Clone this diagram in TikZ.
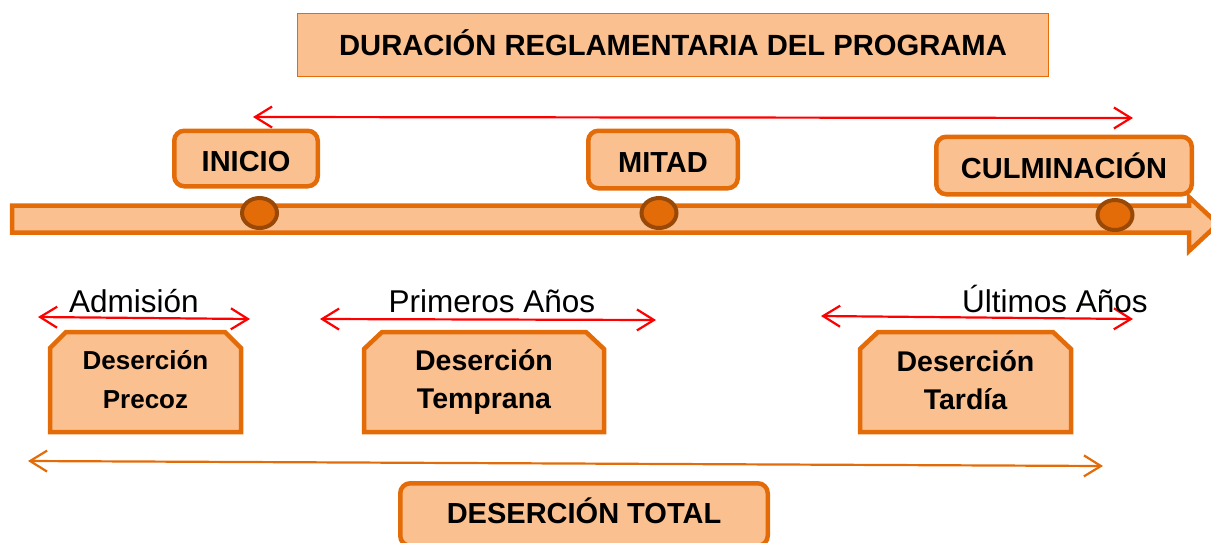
\documentclass[tikz,border=0pt]{standalone}
\usepackage{fontspec}
\setmainfont{Liberation Sans}
\usetikzlibrary{arrows.meta,shapes.geometric}
\definecolor{orL}{HTML}{FAC090}
\definecolor{orD}{HTML}{E36C09}
\definecolor{brn}{HTML}{984807}
\begin{document}
\begin{tikzpicture}[x=1pt,y=-1pt,
  lbl/.style={draw=orD, fill=orL, line width=4.5pt, rounded corners=10pt, inner sep=0pt,
    font=\bfseries\fontsize{29}{34}\selectfont, text height=25pt, text depth=0pt},
  ttl/.style={draw=orD, fill=orL, line width=1.2pt, inner sep=0pt,
    font=\bfseries\fontsize{29.2}{34}\selectfont, text height=21pt, text depth=0pt},
  dot/.style={ellipse, draw=brn, fill=orD, line width=4pt, minimum width=35pt, minimum height=30pt, inner sep=0pt},
  bar/.style={draw=orD, fill=orL, line width=4.5pt, line join=miter},
  snip/.style={draw=orD, fill=orL, line width=4.5pt, line join=miter},
  redarr/.style={draw=red, line width=2.2pt, {Straight Barb[length=17pt,width=21pt]}-{Straight Barb[length=17pt,width=21pt]}},
  orarr/.style={draw=orD, line width=2.2pt, {Straight Barb[length=17pt,width=21pt]}-{Straight Barb[length=17pt,width=21pt]}},
  yr/.style={font=\fontsize{31.5}{36}\selectfont, inner sep=0pt, anchor=base},
  des/.style={font=\bfseries\fontsize{28.5}{34}\selectfont, inner sep=0pt, anchor=base}
]
\useasboundingbox (0,0) rectangle (1211,542);

% title
\node[ttl, minimum width=750.8pt, minimum height=62.8pt] (title) at (673,45) {DURACIÓN REGLAMENTARIA DEL PROGRAMA};

% top red arrow
\coordinate (ta) at (253,117);
\coordinate (tb) at (1133,118);
\draw[redarr] (ta) -- (tb);

% time bar
\draw[bar] (12,205.5) -- (1189,205.5) -- (1189,197) -- (1218,224) -- (1189,251) -- (1189,232.5) -- (12,232.5) -- cycle;

% dots
\node[dot] (d1) at (259.5,213) {};
\node[dot] (d2) at (659,213) {};
\node[dot] (d3) at (1115,215) {};

% milestone boxes
\node[lbl, minimum width=143.5pt, minimum height=55.5pt] (inicio) at (246,158.5) {INICIO};
\node[lbl, minimum width=149.5pt, minimum height=57.5pt] (mitad) at (663,159.5) {MITAD};
\node[lbl, minimum width=255.5pt, minimum height=57.5pt] (culm) at (1064,165.5) {CULMINACIÓN};

% period arrows
\coordinate (a1) at (38,317);
\coordinate (a2) at (250,319);
\draw[redarr] (a1) -- (a2);
\coordinate (p1) at (320,319);
\coordinate (p2) at (656,320);
\draw[redarr] (p1) -- (p2);
\coordinate (u1) at (821,316);
\coordinate (u2) at (1133,319);
\draw[redarr] (u1) -- (u2);

% period labels
\node[yr] (adm) at (134,312) {Admisión};
\node[yr] (prim) at (492,312) {Primeros Años};
\node[yr] (ult) at (1055,312) {Últimos Años};

% desercion boxes
\draw[snip] (50,348) -- (66,332) -- (225,332) -- (241,348) -- (241,432) -- (50,432) -- cycle;
\node[des, font=\bfseries\fontsize{26}{30}\selectfont] (prec1) at (145.5,369) {Deserción};
\node[des, font=\bfseries\fontsize{26}{30}\selectfont] (prec2) at (145.5,408) {Precoz};

\draw[snip] (364,349) -- (382,332) -- (586,332) -- (604,349) -- (604,432) -- (364,432) -- cycle;
\node[des] (temp1) at (484,370) {Deserción};
\node[des] (temp2) at (484,408) {Temprana};

\draw[snip] (860,349) -- (878,332) -- (1053,332) -- (1071,349) -- (1071,432) -- (860,432) -- cycle;
\node[des] (tard1) at (965.5,371) {Deserción};
\node[des] (tard2) at (965.5,409) {Tardía};

% total arrow
\coordinate (o1) at (28,461);
\coordinate (o2) at (1103,466);
\draw[orarr] (o1) -- (o2);

\node[lbl, text height=17pt, minimum width=367.5pt, minimum height=62.5pt] (total) at (584,514.5) {DESERCIÓN TOTAL};
\end{tikzpicture}
\end{document}
